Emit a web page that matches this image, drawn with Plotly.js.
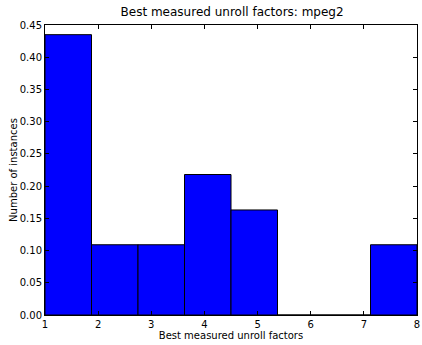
<!DOCTYPE html>
<html>
<head>
<meta charset="utf-8">
<script src="https://cdn.plot.ly/plotly-3.0.1.min.js"></script>
<style>
  html, body { margin: 0; padding: 0; background: #fff; }
  #chart { width: 422px; height: 345px; }
</style>
</head>
<body>
<div id="chart"></div>
<script>
// Histogram of best measured unroll factors (normalised), 8 equal bins over [1, 8]
const binEdges = [1, 1.875, 2.75, 3.625, 4.5, 5.375, 6.25, 7.125, 8];
const density = [0.435, 0.109, 0.109, 0.218, 0.163, 0, 0, 0.109];

const centers = density.map((_, i) => (binEdges[i] + binEdges[i + 1]) / 2);
const widths = density.map((_, i) => binEdges[i + 1] - binEdges[i]);

const trace = {
  type: 'bar',
  x: centers,
  y: density,
  width: widths,
  marker: { color: '#0000ff', line: { color: '#000000', width: 1 } },
  hoverinfo: 'x+y'
};

const axisBase = {
  showline: true,
  linecolor: '#000',
  linewidth: 1,
  mirror: 'ticks',
  ticks: 'inside',
  ticklen: 4,
  tickcolor: '#000',
  showgrid: false,
  zeroline: false,
  tickfont: { family: 'DejaVu Sans', size: 10, color: '#000' }
};

const layout = {
  width: 422,
  height: 345,
  margin: { l: 45, r: 5, t: 25, b: 30 },
  paper_bgcolor: '#fff',
  plot_bgcolor: '#fff',
  font: { family: 'DejaVu Sans', color: '#000' },
  title: {
    text: 'Best measured unroll factors: mpeg2',
    font: { family: 'DejaVu Sans', size: 12, color: '#000' },
    x: 0.55, xanchor: 'center', y: 0.965, yanchor: 'middle'
  },
  xaxis: Object.assign({}, axisBase, {
    range: [1, 8],
    dtick: 1,
    tick0: 1,
    title: { text: 'Best measured unroll factors', font: { family: 'DejaVu Sans', size: 10, color: '#000' }, standoff: 2 }
  }),
  yaxis: Object.assign({}, axisBase, {
    range: [0, 0.45],
    dtick: 0.05,
    tick0: 0,
    tickformat: '.2f',
    title: { text: 'Number of instances', font: { family: 'DejaVu Sans', size: 10, color: '#000' }, standoff: 0 }
  }),
  bargap: 0,
  showlegend: false
};

Plotly.newPlot('chart', [trace], layout, { displayModeBar: false, staticPlot: true });
</script>
</body>
</html>
